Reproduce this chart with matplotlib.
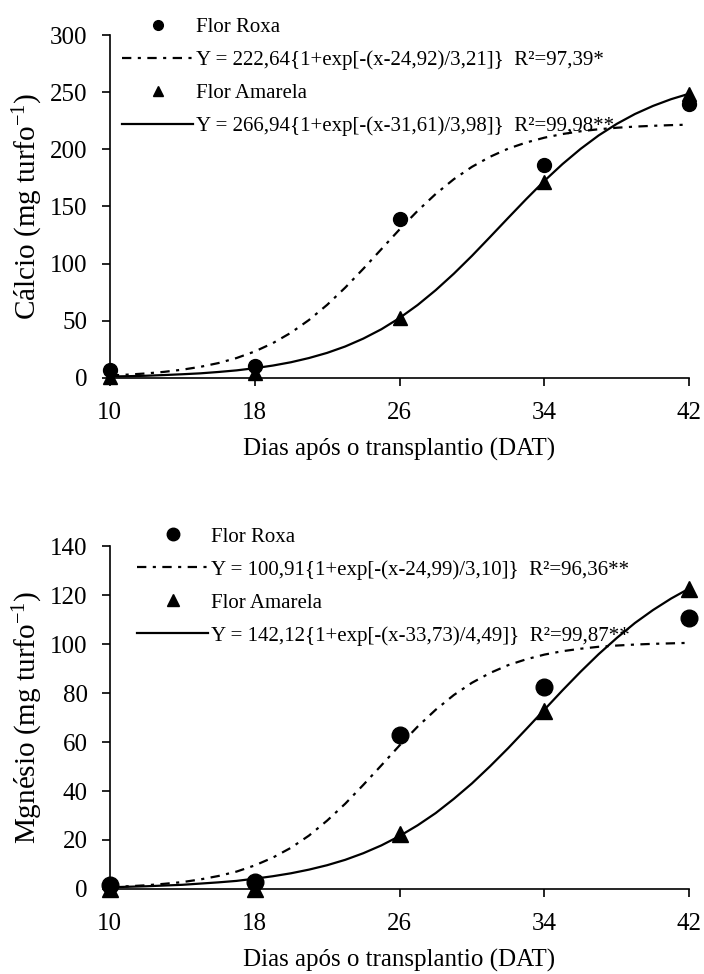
import numpy as np
import matplotlib
matplotlib.use("Agg")
import matplotlib.pyplot as plt
from matplotlib.lines import Line2D

plt.rcParams["font.family"] = ["Liberation Serif", "DejaVu Serif"]
plt.rcParams["mathtext.fontset"] = "custom"
plt.rcParams["mathtext.rm"] = "Liberation Serif"
plt.rcParams["mathtext.it"] = "Liberation Serif:italic"
plt.rcParams["axes.unicode_minus"] = False

# dias após o transplantio (observados)
dat = [10, 18, 26, 34, 42]
ca_roxa = [7, 10, 139, 186, 240]
ca_amarela = [1, 4, 52, 171, 248]
mg_roxa = [1.5, 3, 63, 82.5, 110.5]
mg_amarela = [0, 0, 22.5, 72.5, 122.5]

# curvas ajustadas (passo de 1 dia)
dat_fit = list(range(10, 43))
ca_roxa_fit = [2.1, 2.9, 3.9, 5.3, 7.2, 9.7, 13.0, 17.4, 23.1, 30.4, 39.5,
               50.7, 63.9, 79.0, 95.5, 112.7, 129.9, 146.2, 161.0, 173.9,
               184.7, 193.5, 200.6, 206.0, 210.2, 213.4, 215.8, 217.6,
               218.9, 219.9, 220.6, 221.2, 221.6]
ca_amarela_fit = [1.2, 1.5, 1.9, 2.5, 3.2, 4.0, 5.2, 6.6, 8.5, 10.8, 13.7,
                  17.4, 21.9, 27.5, 34.4, 42.6, 52.4, 63.8, 76.8, 91.2,
                  106.8, 123.3, 140.0, 156.5, 172.4, 187.1, 200.4, 212.2,
                  222.3, 230.9, 238.0, 243.9, 248.7]
mg_roxa_fit = [0.8, 1.1, 1.5, 2.1, 2.8, 3.9, 5.3, 7.1, 9.6, 12.8, 16.8,
               21.8, 27.9, 34.8, 42.5, 50.5, 58.6, 66.3, 73.2, 79.2,
               84.2, 88.2, 91.4, 93.8, 95.7, 97.1, 98.1, 98.9, 99.4,
               99.8, 100.1, 100.3, 100.5]
mg_amarela_fit = [0.7, 0.9, 1.1, 1.4, 1.7, 2.2, 2.7, 3.3, 4.2, 5.2, 6.4,
                  7.9, 9.7, 11.9, 14.6, 17.8, 21.6, 26.0, 31.0, 36.8,
                  43.1, 50.1, 57.5, 65.3, 73.2, 81.1, 88.7, 95.9, 102.5,
                  108.6, 113.9, 118.6, 122.7]

ca_eq = ["Y = 222,64{1+exp[-(x-24,92)/3,21]}  R²=97,39*",
         "Y = 266,94{1+exp[-(x-31,61)/3,98]}  R²=99,98**"]
mg_eq = ["Y = 100,91{1+exp[-(x-24,99)/3,10]}  R²=96,36**",
         "Y = 142,12{1+exp[-(x-33,73)/4,49]}  R²=99,87**"]

DASHDOT = (0, (4.2, 2.9, 1.4, 2.9))


def painel(ax, roxa, amarela, roxa_fit, amarela_fit, eqs, ylim, yticks,
           ylabel, ms, leg_ms, leg_x, leg_y):
    ax.plot(dat_fit, roxa_fit, color="black", lw=1.6, ls=DASHDOT)
    ax.plot(dat_fit, amarela_fit, color="black", lw=1.6)
    ax.plot(dat, roxa, "o", color="black", ms=ms, clip_on=False, zorder=5)
    ax.plot(dat, amarela, "^", color="black", ms=ms, clip_on=False, zorder=5)

    ax.set_xlim(10, 42)
    ax.set_ylim(*ylim)
    ax.set_xticks(dat)
    ax.set_yticks(yticks)
    ax.tick_params(direction="out", length=6, width=1.2, labelsize=18)
    ax.tick_params(axis="x", pad=11)
    ax.tick_params(axis="y", pad=10)
    for s in ["top", "right"]:
        ax.spines[s].set_visible(False)
    for s in ["left", "bottom"]:
        ax.spines[s].set_linewidth(1.2)
    ax.set_xlabel("Dias após o transplantio (DAT)", fontsize=18, labelpad=10)
    ax.set_ylabel(ylabel, fontsize=21, labelpad=4)

    handles = [
        Line2D([], [], ls="none", marker="o", color="black", ms=leg_ms),
        Line2D([], [], color="black", lw=1.6, ls=DASHDOT),
        Line2D([], [], ls="none", marker="^", color="black", ms=leg_ms),
        Line2D([], [], color="black", lw=1.6),
    ]
    labels = ["Flor Roxa", eqs[0], "Flor Amarela", eqs[1]]
    ax.legend(handles, labels, loc="upper left", bbox_to_anchor=(leg_x, leg_y),
              frameon=False, fontsize=15, handlelength=3.4, handletextpad=0.15,
              labelspacing=0.64, borderaxespad=0)


fig = plt.figure(figsize=(7.04, 9.74), dpi=100)
ax1 = fig.add_axes([0.156, 0.612, 0.823, 0.352])
ax2 = fig.add_axes([0.156, 0.0873, 0.823, 0.352])

painel(ax1, ca_roxa, ca_amarela, ca_roxa_fit, ca_amarela_fit, ca_eq,
       (0, 300), range(0, 301, 50), "Cálcio (mg turfo$^{\\mathregular{-1}}$)",
       ms=10, leg_ms=7, leg_x=0.007, leg_y=1.075)
painel(ax2, mg_roxa, mg_amarela, mg_roxa_fit, mg_amarela_fit, mg_eq,
       (0, 140), range(0, 141, 20), "Mgnésio (mg turfo$^{\\mathregular{-1}}$)",
       ms=12, leg_ms=9, leg_x=0.033, leg_y=1.08)

fig.savefig("out.png", dpi=100)
